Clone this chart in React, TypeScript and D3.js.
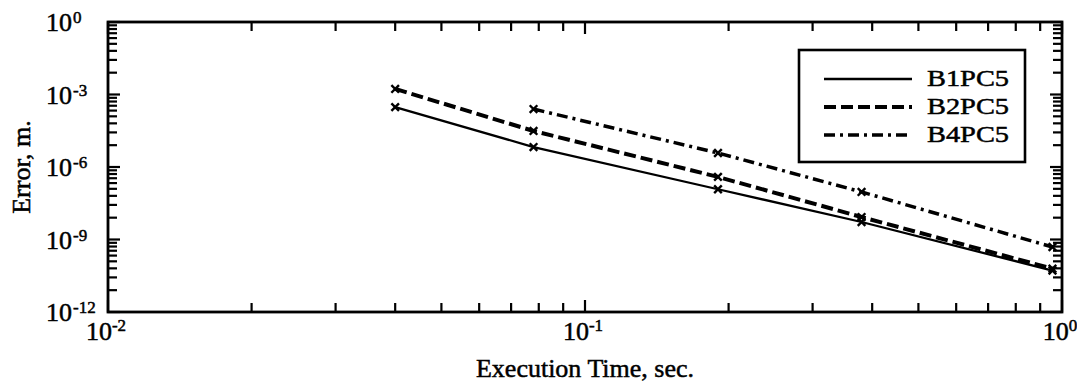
import React from "react";
import * as d3 from "d3";

const seriesNames = ["B1PC5", "B2PC5", "B4PC5"];
const b1x = [0.04, 0.078, 0.19, 0.38, 0.955];
const b1y = [3.0e-4, 6.7e-6, 1.2e-7, 5.3e-9, 5.2e-11];
const b2x = [0.04, 0.078, 0.19, 0.38, 0.955];
const b2y = [1.7e-3, 3.1e-5, 3.9e-7, 8.5e-9, 6.2e-11];
const b4x = [0.078, 0.19, 0.38, 0.955];
const b4y = [2.5e-4, 3.8e-6, 9.3e-8, 4.9e-10];
const xMajorExp = [-2, -1, 0];
const yMajorExp = [0, -3, -6, -9, -12];

const W = 1077, H = 385;
const L = 108, R = 1062, T = 22, B = 312;
const FONT = "'Liberation Serif', 'Times New Roman', serif";

const dashes = ["none", "12 5", "11 5 3 5"];
const widths = [2.3, 4, 3.5];

export default function App() {
  const x = d3.scaleLog().domain([1e-2, 1]).range([L, R]);
  const y = d3.scaleLog().domain([1e-12, 1]).range([B, T]);

  const series = [
    { name: seriesNames[0], xs: b1x, ys: b1y },
    { name: seriesNames[1], xs: b2x, ys: b2y },
    { name: seriesNames[2], xs: b4x, ys: b4y },
  ];
  const line = d3
    .line<[number, number]>()
    .x((d) => x(d[0]))
    .y((d) => y(d[1]));

  const xMinor: number[] = [];
  for (let n = -2; n < 0; n++) for (let k = 2; k <= 9; k++) xMinor.push(k * Math.pow(10, n));
  const yMinor: number[] = [];
  for (let i = 0; i < yMajorExp.length - 1; i++) {
    const lo = yMajorExp[i + 1];
    for (let k = 2; k <= 9; k++) yMinor.push(Math.pow(10, lo) * Math.pow(k, 3));
  }
  const mt = 9, Mt = 12;
  const tickStroke = 2.2;

  const lx0 = 824, lx1 = 912, ly = [79, 107, 135];

  return (
    <svg width={W} height={H} style={{ position: "absolute", left: 0, top: 0, background: "#fff" }}>
      <rect x={0} y={0} width={W} height={H} fill="#fff" />
      <g stroke="#000" strokeWidth={tickStroke}>
        {xMinor.map((v, i) => (
          <g key={"xm" + i}>
            <line x1={x(v)} x2={x(v)} y1={B} y2={B - mt} />
            <line x1={x(v)} x2={x(v)} y1={T} y2={T + mt} />
          </g>
        ))}
        {xMajorExp.map((e, i) => (
          <g key={"xM" + i}>
            <line x1={x(Math.pow(10, e))} x2={x(Math.pow(10, e))} y1={B} y2={B - Mt} />
            <line x1={x(Math.pow(10, e))} x2={x(Math.pow(10, e))} y1={T} y2={T + Mt} />
          </g>
        ))}
        {yMinor.map((v, i) => (
          <g key={"ym" + i}>
            <line x1={L} x2={L + mt} y1={y(v)} y2={y(v)} />
            <line x1={R} x2={R - mt} y1={y(v)} y2={y(v)} />
          </g>
        ))}
        {yMajorExp.map((e, i) => (
          <g key={"yM" + i}>
            <line x1={L} x2={L + Mt} y1={y(Math.pow(10, e))} y2={y(Math.pow(10, e))} />
            <line x1={R} x2={R - Mt} y1={y(Math.pow(10, e))} y2={y(Math.pow(10, e))} />
          </g>
        ))}
      </g>
      <rect x={L} y={T} width={R - L} height={B - T} fill="none" stroke="#000" strokeWidth={2.8} />

      {series.map((s, i) => {
        const pts: [number, number][] = s.xs.map((v, j) => [v, s.ys[j]]);
        return (
          <g key={s.name}>
            <path d={line(pts) || ""} fill="none" stroke="#000" strokeWidth={widths[i]}
              strokeDasharray={dashes[i]} />
            {pts.map((p, j) => {
              const cx = x(p[0]), cy = y(p[1]);
              const r = 3.8;
              return (
                <g key={j} stroke="#000" strokeWidth={2.4}>
                  <line x1={cx - r} y1={cy - r} x2={cx + r} y2={cy + r} />
                  <line x1={cx - r} y1={cy + r} x2={cx + r} y2={cy - r} />
                </g>
              );
            })}
          </g>
        );
      })}

      <g fontFamily={FONT} fill="#000" stroke="#000" strokeWidth={0.5}>
        {yMajorExp.map((e) => {
          const py = y(Math.pow(10, e));
          return (
            <g key={"yl" + e}>
              <text x={72} y={py + 9} fontSize={26} textAnchor="end">10</text>
              <text x={73} y={py + 1} fontSize={17} textAnchor="start">{String(e)}</text>
            </g>
          );
        })}
        {xMajorExp.map((e) => {
          const px = x(Math.pow(10, e));
          return (
            <text key={"xl" + e} x={px - 2} y={340} fontSize={26} textAnchor="middle">
              10<tspan fontSize={17} dy={-9}>{String(e)}</tspan>
            </text>
          );
        })}
        <text x={585} y={377} fontSize={26} textAnchor="middle">Execution Time, sec.</text>
        <text transform={`translate(30,167) rotate(-90)`} fontSize={26} textAnchor="middle">Error, m.</text>
      </g>

      <rect x={799} y={50} width={226} height={112} fill="#fff" stroke="#000" strokeWidth={2.6} />
      {series.map((s, i) => (
        <g key={"lg" + i}>
          <line x1={lx0} x2={lx1} y1={ly[i]} y2={ly[i]} stroke="#000" strokeWidth={widths[i]}
            strokeDasharray={dashes[i]} />
          <text x={927} y={ly[i] + 7} fontFamily={FONT} fontSize={24} fill="#000" stroke="#000"
            strokeWidth={0.5} textLength={82} lengthAdjust="spacingAndGlyphs">{s.name}</text>
        </g>
      ))}
    </svg>
  );
}
